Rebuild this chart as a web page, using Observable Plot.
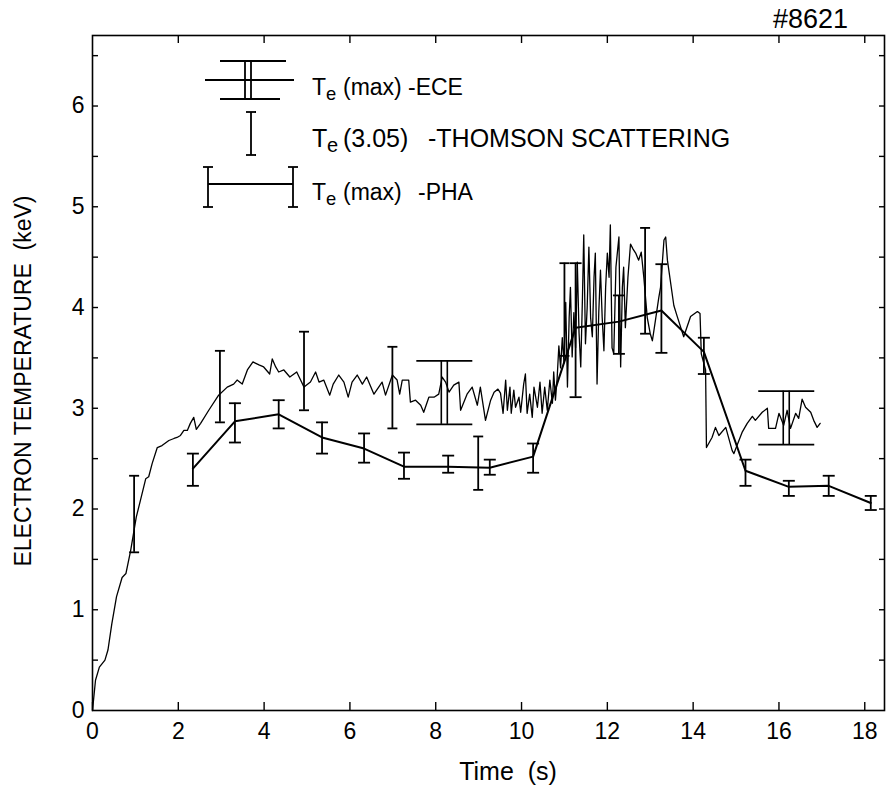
<!DOCTYPE html>
<html><head><meta charset="utf-8">
<script src="https://cdn.jsdelivr.net/npm/d3@7"></script>
<script src="https://cdn.jsdelivr.net/npm/@observablehq/plot@0.6"></script>
<style>body{margin:0;background:#fff}</style>
</head><body><div id="chart"></div>
<script>
// ---- ECE trace: Te(max) from electron cyclotron emission ----
const eceT = [0,0.07,0.16,0.29,0.36,0.45,0.56,0.69,0.78,0.89,1.02,1.12,1.24,1.31,1.39,1.51,1.62,1.78,1.90,1.97,2.05,2.13,2.21,2.28,2.36,2.42,2.52,2.71,2.94,3.14,3.29,3.37,3.49,3.61,3.74,3.88,3.99,4.13,4.19,4.27,4.34,4.46,4.60,4.76,4.85,4.93,5.08,5.20,5.28,5.39,5.53,5.61,5.74,5.86,5.96,6.05,6.17,6.29,6.39,6.56,6.75,6.83,6.99,7.10,7.16,7.22,7.37,7.41,7.53,7.65,7.72,7.84,7.96,8.07,8.15,8.23,8.31,8.42,8.54,8.58,8.73,8.85,8.97,9.04,9.16,9.28,9.36,9.45,9.51,9.57,9.63,9.67,9.73,9.76,9.82,9.86,9.94,9.98,10.05,10.09,10.13,10.19,10.25,10.29,10.37,10.43,10.48,10.54,10.60,10.66,10.72,10.75,10.79,10.83,10.87,10.91,10.95,10.99,11.03,11.07,11.11,11.14,11.18,11.22,11.26,11.30,11.34,11.38,11.42,11.45,11.49,11.53,11.57,11.61,11.65,11.69,11.72,11.76,11.80,11.84,11.88,11.92,11.96,12.00,12.04,12.07,12.11,12.15,12.20,12.27,12.31,12.35,12.38,12.42,12.48,12.54,12.60,12.66,12.73,12.79,12.85,12.93,13.00,13.05,13.12,13.20,13.24,13.32,13.36,13.40,13.55,13.63,13.78,13.94,14.10,14.16,14.19,14.29,14.31,14.44,14.52,14.60,14.76,14.91,14.95,15.04,15.14,15.26,15.38,15.45,15.61,15.73,15.76,15.92,16.00,16.11,16.19,16.27,16.39,16.46,16.54,16.62,16.74,16.81,16.89,16.96];
const eceV = [0,0.30,0.43,0.50,0.60,0.86,1.13,1.32,1.36,1.59,1.92,2.09,2.30,2.32,2.45,2.61,2.63,2.68,2.70,2.71,2.73,2.78,2.78,2.85,2.91,2.79,2.85,2.98,3.13,3.21,3.24,3.28,3.24,3.38,3.46,3.43,3.41,3.34,3.49,3.41,3.36,3.38,3.31,3.36,3.28,3.21,3.26,3.36,3.26,3.28,3.13,3.24,3.33,3.26,3.11,3.26,3.33,3.24,3.31,3.14,3.26,3.13,3.33,3.28,3.14,3.28,3.28,3.06,3.08,3.03,2.96,3.11,3.11,3.14,3.31,3.26,3.16,3.23,3.26,2.98,3.14,3.21,3.03,3.21,2.88,3.08,3.16,3.19,3.15,2.95,3.28,2.98,3.21,2.95,3.18,3.01,3.11,2.96,3.24,3.34,2.95,3.14,2.91,3.21,3.01,3.26,2.95,3.21,2.98,3.28,3.05,3.36,3.08,3.30,3.62,3.40,3.70,3.45,4.05,3.21,3.90,4.20,3.51,3.95,3.60,4.45,3.75,3.41,4.10,4.72,3.64,4.00,4.60,3.90,3.71,4.30,4.54,3.24,3.95,4.37,3.90,3.57,4.20,4.54,4.30,4.82,3.60,3.54,4.40,4.70,3.41,4.20,4.40,3.80,4.30,4.63,4.58,4.54,4.47,4.55,4.30,3.90,3.74,3.67,3.87,4.10,4.20,4.67,4.70,4.47,4.02,3.91,3.71,3.91,3.96,3.94,3.54,3.38,2.61,2.71,2.81,2.73,2.81,2.58,2.55,2.65,2.76,2.85,2.92,2.88,2.96,3.00,2.80,2.80,2.95,2.83,2.98,2.80,2.95,2.90,3.09,3.01,2.96,2.88,2.81,2.85];

// ---- ECE error bars ----
const eceBarT  = [8.20, 16.17];
const eceBarLo = [2.84, 2.64];
const eceBarHi = [3.47, 3.17];

// ---- Thomson scattering Te(3.05) ----
const thT  = [0.97, 2.97, 4.93, 6.99, 8.99, 11.00, 12.88];
const thLo = [1.57, 2.86, 2.98, 2.80, 2.19, 3.52, 3.74];
const thHi = [2.33, 3.57, 3.76, 3.61, 2.72, 4.44, 4.79];

// ---- PHA Te(max) ----
const phaT  = [2.34, 3.32, 4.34, 5.35, 6.33, 7.26, 8.29, 9.26, 10.27, 11.26, 12.27, 13.26, 14.25, 15.22, 16.23, 17.16, 18.14];
const phaV  = [2.40, 2.87, 2.94, 2.71, 2.60, 2.42, 2.42, 2.41, 2.52, 3.80, 3.86, 3.97, 3.56, 2.38, 2.22, 2.23, 2.06];
const phaLo = [2.23, 2.66, 2.80, 2.55, 2.46, 2.30, 2.36, 2.34, 2.36, 3.11, 3.54, 3.55, 3.34, 2.23, 2.13, 2.13, 1.99];
const phaHi = [2.55, 3.05, 3.08, 2.86, 2.75, 2.56, 2.53, 2.49, 2.65, 4.44, 4.12, 4.43, 3.70, 2.49, 2.28, 2.33, 2.13];

// ---- axis ticks ----
const xTicks = [0, 2, 4, 6, 8, 10, 12, 14, 16, 18];
const yLabelTicks = [0, 1, 2, 3, 4, 5, 6];
const yMinorTicks = [0.5, 1, 1.5, 2, 2.5, 3, 3.5, 4, 4.5, 5, 5.5, 6, 6.5];

const ece = eceT.map((t, i) => ({t, v: eceV[i]}));
const eceBars = eceBarT.map((t, i) => ({t, lo: eceBarLo[i], hi: eceBarHi[i]}));
const th = thT.map((t, i) => ({t, lo: thLo[i], hi: thHi[i]}));
const pha = phaT.map((t, i) => ({t, v: phaV[i], lo: phaLo[i], hi: phaHi[i]}));

const capSym = w => ({draw(ctx) { ctx.moveTo(-w, 0); ctx.lineTo(w, 0); }});
const FONT = "'Liberation Sans', Arial, Helvetica, sans-serif";

const chart = Plot.plot({
  width: 887, height: 790,
  marginLeft: 92, marginRight: 3, marginTop: 35, marginBottom: 80,
  x: {domain: [0, 18.46]},
  y: {domain: [0, 6.70]},
  style: {fontFamily: FONT, fontSize: "23px", color: "#000", background: "#fff"},
  marks: [
    Plot.frame({stroke: "#000", strokeWidth: 1.6}),
    Plot.axisX({anchor: "bottom", ticks: xTicks, tickSize: -8, tickPadding: 20, label: null, tickFormat: d => String(d), strokeWidth: 1.4}),
    Plot.axisX({anchor: "top", ticks: xTicks.slice(1), tickSize: -7, label: null, tickFormat: () => "", strokeWidth: 1.4}),
    Plot.axisY({anchor: "left", ticks: yMinorTicks, tickSize: -6, label: null, tickFormat: () => "", strokeWidth: 1.4}),
    Plot.axisY({anchor: "left", ticks: yLabelTicks, tickSize: 0, tickPadding: 8, label: null, tickFormat: d => String(d)}),
    Plot.axisY({anchor: "right", ticks: yMinorTicks, tickSize: -6, label: null, tickFormat: () => "", strokeWidth: 1.4}),
    // ECE trace
    Plot.line(ece, {x: "t", y: "v", stroke: "#000", strokeWidth: 1.3}),
    // ECE error bars (double line, wide caps)
    Plot.ruleX(eceBars, {x: "t", y1: "lo", y2: "hi", dx: -3, stroke: "#000", strokeWidth: 1.6}),
    Plot.ruleX(eceBars, {x: "t", y1: "lo", y2: "hi", dx: 3, stroke: "#000", strokeWidth: 1.6}),
    Plot.dot(eceBars, {x: "t", y: "lo", symbol: capSym(28), r: 3, stroke: "#000", strokeWidth: 1.8, fill: "none"}),
    Plot.dot(eceBars, {x: "t", y: "hi", symbol: capSym(28), r: 3, stroke: "#000", strokeWidth: 1.8, fill: "none"}),
    // Thomson scattering
    Plot.ruleX(th, {x: "t", y1: "lo", y2: "hi", stroke: "#000", strokeWidth: 1.8}),
    Plot.dot(th, {x: "t", y: "lo", symbol: capSym(5), r: 3, stroke: "#000", strokeWidth: 1.8, fill: "none"}),
    Plot.dot(th, {x: "t", y: "hi", symbol: capSym(5), r: 3, stroke: "#000", strokeWidth: 1.8, fill: "none"}),
    // PHA
    Plot.line(pha, {x: "t", y: "v", stroke: "#000", strokeWidth: 2}),
    Plot.ruleX(pha, {x: "t", y1: "lo", y2: "hi", stroke: "#000", strokeWidth: 1.8}),
    Plot.dot(pha, {x: "t", y: "lo", symbol: capSym(6), r: 3, stroke: "#000", strokeWidth: 1.8, fill: "none"}),
    Plot.dot(pha, {x: "t", y: "hi", symbol: capSym(6), r: 3, stroke: "#000", strokeWidth: 1.8, fill: "none"})
  ]
});
document.getElementById("chart").appendChild(chart);

// ---- annotations & legend ----
const svg = d3.select(chart);
const lg = svg.append("g").attr("stroke", "#000").attr("fill", "none").attr("stroke-width", 1.8);
const L = (x1, y1, x2, y2) => lg.append("line").attr("x1", x1).attr("y1", y1).attr("x2", x2).attr("y2", y2);
// ECE glyph
L(220, 61, 286, 61); L(205, 80, 294, 80); L(220, 99, 280, 99);
L(245, 61, 245, 99); L(251, 61, 251, 99);
// Thomson glyph
L(251, 112, 251, 155); L(246, 112, 256, 112); L(246, 155, 256, 155);
// PHA glyph
L(208, 184, 293, 184);
L(208, 167, 208, 207); L(203, 167, 213, 167); L(203, 207, 213, 207);
L(293, 167, 293, 207); L(288, 167, 298, 167); L(288, 207, 298, 207);

function legendText(y, size, parts) {
  const t = svg.append("text").attr("y", y).attr("text-anchor", "start")
    .attr("font-family", FONT).attr("font-size", size).attr("fill", "#000");
  parts.forEach(([x, s, sub]) => {
    t.append("tspan").attr("x", x).attr("y", sub ? y + 5 : y)
      .attr("font-size", sub ? size * 0.8 : size).text(s);
  });
}
legendText(95, 23, [[312, "T"], [326, "e", true], [343, "(max)"], [408, "-ECE"]]);
legendText(147, 25, [[312, "T"], [327, "e", true], [343, "(3.05)"], [428, "-THOMSON SCATTERING"]]);
legendText(200, 23, [[312, "T"], [326, "e", true], [343, "(max)"], [418, "-PHA"]]);

svg.append("text").attr("x", 848).attr("y", 28).attr("text-anchor", "end")
  .attr("font-family", FONT).attr("font-size", 27).attr("fill", "#000").text("#8621");
svg.append("text").attr("x", 508).attr("y", 780).attr("text-anchor", "middle")
  .attr("font-family", FONT).attr("font-size", 25).attr("fill", "#000").style("white-space", "pre").text("Time  (s)");
svg.append("text").attr("transform", "translate(31,381) rotate(-90)").attr("text-anchor", "middle")
  .attr("font-family", FONT).attr("font-size", 23).attr("fill", "#000").style("white-space", "pre").text("ELECTRON TEMPERATURE  (keV)");
</script>
</body></html>
